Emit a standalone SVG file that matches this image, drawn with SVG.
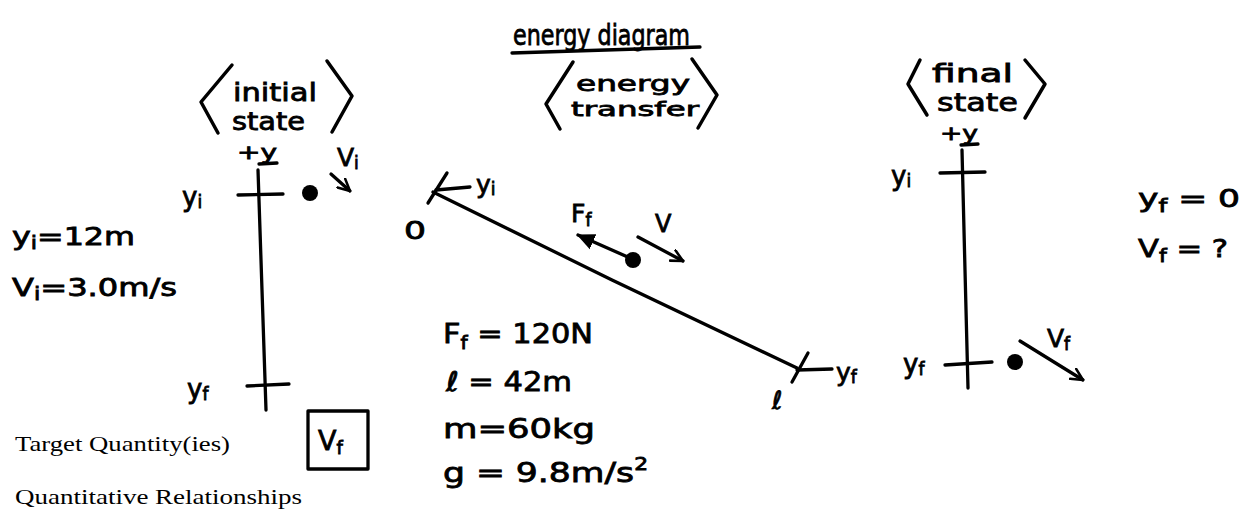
<svg xmlns="http://www.w3.org/2000/svg" width="1250" height="522" viewBox="0 0 1250 522">
<style>
.hw{font-family:"DejaVu Sans","Liberation Sans",sans-serif;fill:#000;stroke:#000;stroke-width:0.8}
.pr{font-family:"Liberation Serif","Times New Roman",serif;fill:#000;font-size:21px}
.ln{stroke:#000;stroke-width:3.3;fill:none;stroke-linecap:round;stroke-linejoin:round}
.br{stroke:#000;stroke-width:3.5;fill:none;stroke-linecap:round;stroke-linejoin:round}
</style>
<defs>
<marker id="open" viewBox="0 0 12 12" refX="11" refY="6" markerWidth="14" markerHeight="14" orient="auto" markerUnits="userSpaceOnUse">
<path d="M1,1 L11,6 L1,11" fill="none" stroke="#000" stroke-width="2.2" stroke-linecap="round" stroke-linejoin="round"/>
</marker>
<marker id="solid" viewBox="0 0 12 12" refX="11" refY="6" markerWidth="18" markerHeight="18" orient="auto" markerUnits="userSpaceOnUse">
<path d="M0,0.5 L12,6 L0,11.5 Z" fill="#000"/>
</marker>
</defs>
<rect width="1250" height="522" fill="#fff"/>

<g id="title">
<text class="hw" x="513" y="45" font-size="28" textLength="177" lengthAdjust="spacingAndGlyphs">energy diagram</text>
<path class="ln" d="M512,53 L700,47"/>
</g>

<g id="initial-state">
<path class="br" d="M232,65 L201,102 L218,133"/>
<path class="br" d="M327,61 L352,96 L332,132"/>
<text class="hw" x="233" y="101" font-size="25" textLength="84" lengthAdjust="spacingAndGlyphs">initial</text>
<text class="hw" x="232" y="130" font-size="25" textLength="73" lengthAdjust="spacingAndGlyphs">state</text>
<text class="hw" x="237" y="159" font-size="20" textLength="40" lengthAdjust="spacingAndGlyphs">+y</text>
<path class="ln" d="M259,164 L277,163" stroke-width="2.5"/>
<path class="ln" d="M258,170 L262,290 L266,410"/>
<path class="ln" d="M238,195 L283,194"/>
<path class="ln" d="M247,386 L289,384"/>
<text class="hw" x="182" y="206" font-size="26">y<tspan font-size="17" dy="2">i</tspan></text>
<text class="hw" x="187" y="398" font-size="26">y<tspan font-size="17" dy="2">f</tspan></text>
<circle cx="310" cy="193" r="8" fill="#000"/>
<path class="ln" d="M331,174 L350,191" marker-end="url(#open)"/>
<text class="hw" x="337" y="166" font-size="25">V<tspan font-size="17" dy="3">i</tspan></text>
</g>

<g id="initial-values">
<text class="hw" x="12" y="245" font-size="24" textLength="123" lengthAdjust="spacingAndGlyphs">y<tspan font-size="17" dy="4">i</tspan><tspan dy="-4">=12m</tspan></text>
<text class="hw" x="12" y="296" font-size="24" textLength="165" lengthAdjust="spacingAndGlyphs">V<tspan font-size="17" dy="4">i</tspan><tspan dy="-4">=3.0m/s</tspan></text>
</g>

<g id="target">
<text class="pr" x="15" y="451" textLength="215" lengthAdjust="spacingAndGlyphs">Target Quantity(ies)</text>
<rect x="308" y="411" width="60" height="58" class="ln"/>
<text class="hw" x="318" y="450" font-size="27">V<tspan font-size="18" dy="4">f</tspan></text>
<text class="pr" x="15" y="504" textLength="287" lengthAdjust="spacingAndGlyphs">Quantitative Relationships</text>
</g>

<g id="energy-transfer">
<path class="br" d="M573,62 L546,104 L560,129"/>
<path class="br" d="M692,59 L717,95 L698,128"/>
<text class="hw" x="576" y="91" font-size="21" textLength="114" lengthAdjust="spacingAndGlyphs">energy</text>
<text class="hw" x="571" y="116" font-size="20" textLength="128" lengthAdjust="spacingAndGlyphs">transfer</text>
</g>

<g id="incline">
<path class="ln" d="M433,192 L612,280 L797,368"/>
<path class="ln" d="M447,173 L428,203"/>
<path class="ln" d="M436,190 L470,187"/>
<text class="hw" x="476" y="193" font-size="25">y<tspan font-size="17" dy="2">i</tspan></text>
<text class="hw" x="404" y="239" font-size="25" textLength="22" lengthAdjust="spacingAndGlyphs">0</text>
<path class="ln" d="M808,353 L792,382"/>
<path class="ln" d="M797,370 L832,369"/>
<text class="hw" x="836" y="381" font-size="25">y<tspan font-size="17" dy="2">f</tspan></text>
<text class="hw" x="772" y="409" font-size="25">ℓ</text>
<circle cx="633" cy="260" r="8" fill="#000"/>
<path class="ln" d="M630,258 L578,235" marker-end="url(#solid)"/>
<text class="hw" x="571" y="222" font-size="25">F<tspan font-size="17" dy="4">f</tspan></text>
<path class="ln" d="M638,237 L683,261" marker-end="url(#open)"/>
<text class="hw" x="655" y="232" font-size="24">V</text>
</g>

<g id="transfer-values">
<text class="hw" x="443" y="343" font-size="27" textLength="150" lengthAdjust="spacingAndGlyphs">F<tspan font-size="18" dy="6">f</tspan><tspan dy="-6"> = 120N</tspan></text>
<text class="hw" x="446" y="391" font-size="27" textLength="126" lengthAdjust="spacingAndGlyphs">ℓ = 42m</text>
<text class="hw" x="443" y="438" font-size="27" textLength="152" lengthAdjust="spacingAndGlyphs">m=60kg</text>
<text class="hw" x="443" y="482" font-size="27" textLength="205" lengthAdjust="spacingAndGlyphs">g = 9.8m/s<tspan font-size="17" dy="-12">2</tspan></text>
</g>

<g id="final-state">
<path class="br" d="M920,60 L908,84 L927,115"/>
<path class="br" d="M1025,60 L1045,84 L1025,118"/>
<text class="hw" x="932" y="82" font-size="25" textLength="81" lengthAdjust="spacingAndGlyphs">final</text>
<text class="hw" x="937" y="111" font-size="25" textLength="81" lengthAdjust="spacingAndGlyphs">state</text>
<text class="hw" x="940" y="140" font-size="20" textLength="38" lengthAdjust="spacingAndGlyphs">+y</text>
<path class="ln" d="M961,145 L978,144" stroke-width="2.5"/>
<path class="ln" d="M962,150 L965,270 L968,388"/>
<path class="ln" d="M940,173 L985,172"/>
<path class="ln" d="M945,365 L992,362"/>
<text class="hw" x="891" y="185" font-size="26">y<tspan font-size="17" dy="2">i</tspan></text>
<text class="hw" x="903" y="373" font-size="26">y<tspan font-size="17" dy="2">f</tspan></text>
<circle cx="1015" cy="362" r="8" fill="#000"/>
<path class="ln" d="M1020,341 L1083,380" marker-end="url(#open)"/>
<text class="hw" x="1047" y="347" font-size="25">V<tspan font-size="17" dy="3">f</tspan></text>
</g>

<g id="final-values">
<text class="hw" x="1138" y="207" font-size="25" textLength="102" lengthAdjust="spacingAndGlyphs">y<tspan font-size="18" dy="5">f</tspan><tspan dy="-5"> = 0</tspan></text>
<text class="hw" x="1138" y="257" font-size="25" textLength="90" lengthAdjust="spacingAndGlyphs">V<tspan font-size="18" dy="5">f</tspan><tspan dy="-5"> = ?</tspan></text>
</g>
</svg>
